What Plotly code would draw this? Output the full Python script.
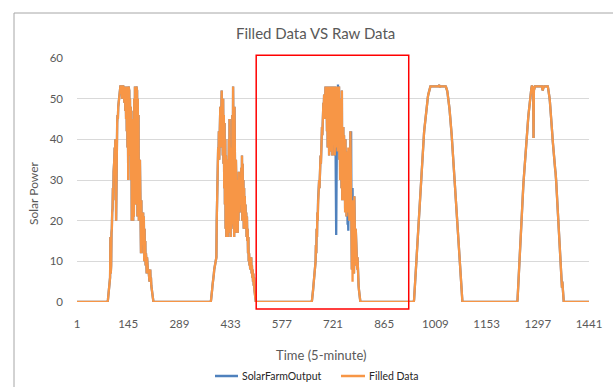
import plotly.graph_objects as go

N_POINTS = 1441
x_vals = list(range(1, N_POINTS + 1))
x_tickvals = [1, 145, 289, 433, 577, 721, 865, 1009, 1153, 1297, 1441]
x_ticktext = [str(v) for v in x_tickvals]
y_tickvals = [0, 10, 20, 30, 40, 50, 60]

# start index (1-based category) of each daylight segment; values outside are 0
day1_start = 88
day1 = [0.5, 1.5, 2.5, 3, 4, 5,
        6, 16, 7,
        9, 17, 18, 22,
        23, 28, 25, 32,
        33, 35, 38, 37,
        40, 39, 20, 38,
        42, 44, 46, 45, 48,
        49, 50, 52, 51, 53,
        53, 53, 52, 53, 53, 50, 53, 53,
        53, 52, 53, 49, 53, 53, 47, 52,
        45, 53, 42, 50, 38, 49, 30,
        53, 50, 52, 44, 50, 36, 48, 30,
        47, 20, 42, 22, 38, 20, 45,
        21, 50, 30, 53, 24, 52, 28, 53,
        35, 52, 21, 50, 25, 46, 20, 40, 22,
        35, 18, 30, 12, 25, 14, 22, 16, 20,
        22, 12, 21, 10, 18, 11, 15, 9, 12,
        10, 7, 11, 8, 9, 7, 8, 6, 7, 5,
        7, 8, 5, 6, 4, 3, 2, 1.5, 1, 0.5]

day2_start = 378
day2 = [0.5, 1, 2, 3, 4, 4.5, 5, 6, 7, 8, 8.5, 9, 9.5,
        10, 10, 11, 20, 28, 35,
        33, 38, 36, 42, 35, 45, 40, 48, 38, 50, 42, 52, 44,
        47, 36, 50, 34, 46,
        28, 44, 24, 40, 18, 36, 16, 30, 20,
        26, 16, 35, 18, 40, 17, 45, 20, 44,
        16, 38, 18, 30, 20, 46, 25, 53, 30, 52,
        16, 48, 22, 40, 17, 35, 20, 32, 18,
        30, 17, 28, 20, 32, 22, 30, 25, 30, 28,
        24, 33, 22, 36, 20, 34, 22, 30, 18,
        28, 20, 26, 18, 24, 19, 22, 16, 21,
        15, 18, 12, 16, 10, 12, 9, 11, 8, 10,
        8, 11, 7, 9, 6, 8, 5, 7, 4,
        6, 3, 2, 0.5]

day3_start = 662
day3_filled = [0.5, 1, 2, 3, 4, 5, 6, 7, 8, 9,
               10, 14, 12, 18, 16, 22, 20, 24, 27,
               26, 30, 28, 33, 31, 36, 34, 40, 38, 43,
               41, 46, 44, 49, 47, 51, 45, 53, 48, 53, 50, 53,
               53, 42, 53, 38, 52, 45, 53, 36, 50, 53, 40, 53, 37, 52, 44, 53, 36,
               51, 53, 39, 53, 42, 50, 36, 53, 38, 52, 45, 53, 40, 51, 37, 53, 43, 50,
               53, 35, 48, 30, 50, 33, 45, 28, 52, 25, 40, 30, 43, 27,
               41, 25, 38, 22, 40, 28, 35, 21, 37, 26, 32, 22, 38, 24, 35, 20, 33, 22,
               42, 30, 42, 18,
               8, 20, 5, 25, 10, 22, 7, 26, 12, 20, 9, 18,
               14, 10, 13, 8, 11, 6, 8, 4, 3, 1.5, 0.5]
day3_raw = [0.5, 1, 2, 3, 4, 5, 6, 7, 8, 9,
            10, 14, 12, 18, 16, 22, 20, 25, 27,
            26, 30, 28, 33, 31, 36, 34, 40, 38, 43,
            41, 46, 44, 49, 47, 51, 45, 53, 48, 53, 50, 53,
            53, 42, 53, 38, 52, 45, 53, 36, 50, 53, 40, 53, 37, 52, 44, 53, 36,
            51, 53, 39, 53, 42, 50, 36, 53, 38, 25, 16.5, 30, 40, 51, 37, 53.5, 43, 50,
            53, 35, 48, 30, 50, 33, 45, 28, 52, 25, 40, 30, 43, 27,
            41, 25, 38, 23, 40, 23, 35, 21, 37, 26, 19, 22, 17.5, 24, 35, 20, 33, 22,
            42, 30, 42, 18,
            8, 20, 28, 19, 10, 22, 7, 26, 12, 20, 9, 18,
            14, 10, 13, 8, 11, 6, 8, 4, 3, 1.5, 0.5]

day4_start = 949
day4 = [0.5, 2, 3.5, 5, 7, 8.5, 10, 12, 13.5, 15.5, 17, 18.5, 20, 21.5, 23, 24.5,
        26, 27.5, 29, 30.5, 32, 33, 34.5, 35.5, 37, 38, 39, 40.5, 41.5, 42.5, 43.5,
        44.5, 45.5, 46.5, 47, 48, 48.5, 49.5, 50, 50.5, 51, 51.5, 52, 52.5, 52.8, 53,
        53, 53, 53, 53, 53, 53, 53, 53, 53, 53, 53, 53, 53, 53, 53, 53, 53, 53, 53, 53,
        53, 53, 53, 53, 53.2, 53.2, 53, 52.8, 53, 53, 53, 53, 53, 53, 53, 53, 53, 53,
        53, 53, 53, 53, 53, 53,
        52.8, 52.6, 52.3, 52, 51.5, 51, 50.3, 49.6, 48.8, 48, 47.2, 46.4, 45.6, 44.8,
        43.5, 42.2, 40.8, 39.4, 38, 36.6, 35.1, 33.7, 32.3, 30.9, 29.4, 27.9, 26.5,
        25, 23.6, 22.1, 20.6, 19.2, 17.7, 16.4, 15.2, 14, 12.8, 11.5, 10.3, 9.1, 7.9,
        5.9, 4, 2, 0]

day5_start = 1240
day5 = [0.5, 2.5, 4.5, 6.5, 8.5, 10.5, 12.5, 14.2, 16, 17.7,
        19.2, 20.7, 22.2, 23.7, 25.2, 26.7, 28.2, 29.7, 31.1, 32.5,
        33.7, 34.9, 36.1, 37.3, 38.5, 39.7, 40.9, 42, 43.2,
        44.2, 45.2, 46.2, 47.2, 48.1, 49, 49.8, 50.6, 51.5,
        52, 52.6, 53, 53, 52.5, 44, 53, 40.3, 52,
        53, 53, 53, 53, 53, 53, 53, 53, 53, 53, 53, 53, 53, 53, 53, 53, 53, 53, 53, 53,
        53, 53, 53, 52.3, 52, 52.5, 53, 53, 53, 53, 53, 53, 53, 53, 53, 53, 53, 53, 53,
        52.6, 52.2, 51.6, 51, 50.2, 49.3, 48.4, 47.5, 46.5, 45.2, 43.8, 42.4, 41, 39.6,
        38.2, 36.8, 35.5, 34.2, 33.5, 33.4, 32.5, 31.8, 31, 29.3, 27.6, 26, 24.3, 22.7,
        21, 19.4, 17.8, 16.1, 14.5, 12.8, 11.2, 9.5, 7.9, 7, 7.5, 3.5, 5, 2.5, 1.5, 0.5, 0]

highlight_start, highlight_end = 505, 934
highlight_low, highlight_high = -1.7, 60.7


def build(segments):
    y = [0.0] * N_POINTS
    for start, vals in segments:
        y[start - 1:start - 1 + len(vals)] = vals
    return y


filled = build([(day1_start, day1), (day2_start, day2), (day3_start, day3_filled),
                (day4_start, day4), (day5_start, day5)])
raw = build([(day1_start, day1), (day2_start, day2), (day3_start, day3_raw),
             (day4_start, day4), (day5_start, day5)])

BLUE = "#4F81BD"
ORANGE = "#F79646"
TXT = "#595959"
FONT = "Lato"

fig = go.Figure()
fig.add_trace(go.Scatter(x=x_vals, y=raw, mode="lines", name="SolarFarmOutput",
                         line=dict(color=BLUE, width=2.3), showlegend=False))
fig.add_trace(go.Scatter(x=x_vals, y=filled, mode="lines", name="Filled Data",
                         line=dict(color=ORANGE, width=2.3), showlegend=False))

L, R, T, B = 77, 24, 58, 85
W, H = 613, 387
pw, ph = W - L - R, H - T - B
Y_MAX = 60


def px(xp):
    return (xp - L) / pw


def py(yp):
    return (H - B - yp) / ph


def dx(v):  # data x -> paper
    return (v - 1) / (N_POINTS - 1)


def dy(v):  # data y -> paper
    return v / Y_MAX


shapes = [
    # chart area border
    dict(type="rect", xref="paper", yref="paper", x0=px(14), x1=px(640), y0=py(420), y1=py(13),
         line=dict(color="#A6A6A6", width=1), fillcolor="rgba(0,0,0,0)", layer="below"),
    # highlight box
    dict(type="rect", xref="paper", yref="paper", x0=dx(highlight_start), x1=dx(highlight_end),
         y0=dy(highlight_low), y1=dy(highlight_high),
         line=dict(color="#FF0000", width=1.5), fillcolor="rgba(0,0,0,0)"),
    # legend samples
    dict(type="line", xref="paper", yref="paper", x0=px(215), x1=px(238), y0=py(376), y1=py(376),
         line=dict(color=BLUE, width=2.5)),
    dict(type="line", xref="paper", yref="paper", x0=px(341), x1=px(365), y0=py(376), y1=py(376),
         line=dict(color=ORANGE, width=2.5)),
]

annotations = [
    dict(text="Filled Data VS Raw Data", xref="paper", yref="paper", x=px(315), y=py(33),
         showarrow=False, font=dict(family=FONT, size=15, color=TXT), xanchor="center", yanchor="middle"),
    dict(text="Solar Power", xref="paper", yref="paper", x=px(33), y=py(193), textangle=-90,
         showarrow=False, font=dict(family=FONT, size=12, color=TXT), xanchor="center", yanchor="middle"),
    dict(text="Time (5-minute)", xref="paper", yref="paper", x=px(321), y=py(355),
         showarrow=False, font=dict(family=FONT, size=13, color=TXT), xanchor="center", yanchor="middle"),
    dict(text="SolarFarmOutput", xref="paper", yref="paper", x=px(240), y=py(376),
         showarrow=False, font=dict(family=FONT, size=10.5, color="#262626"), xanchor="left", yanchor="middle"),
    dict(text="Filled Data", xref="paper", yref="paper", x=px(367), y=py(376),
         showarrow=False, font=dict(family=FONT, size=10.5, color="#262626"), xanchor="left", yanchor="middle"),
]

fig.update_layout(
    width=W, height=H,
    margin=dict(l=L, r=R, t=T, b=B, pad=0),
    paper_bgcolor="white", plot_bgcolor="white",
    showlegend=False,
    font=dict(family=FONT, color=TXT, size=11),
    shapes=shapes, annotations=annotations,
    xaxis=dict(range=[1, N_POINTS], tickmode="array", tickvals=x_tickvals, ticktext=x_ticktext,
               showgrid=False, zeroline=False, showline=False, ticks="",
               ticklabelstandoff=13, tickfont=dict(family=FONT, size=11.5, color=TXT)),
    yaxis=dict(range=[0, Y_MAX], tickmode="array", tickvals=y_tickvals, showgrid=True,
               gridcolor="#D9D9D9", gridwidth=1, zeroline=False, showline=False, ticks="",
               ticklabelstandoff=13, tickfont=dict(family=FONT, size=11.5, color=TXT)),
)

fig.write_html("out.html")
